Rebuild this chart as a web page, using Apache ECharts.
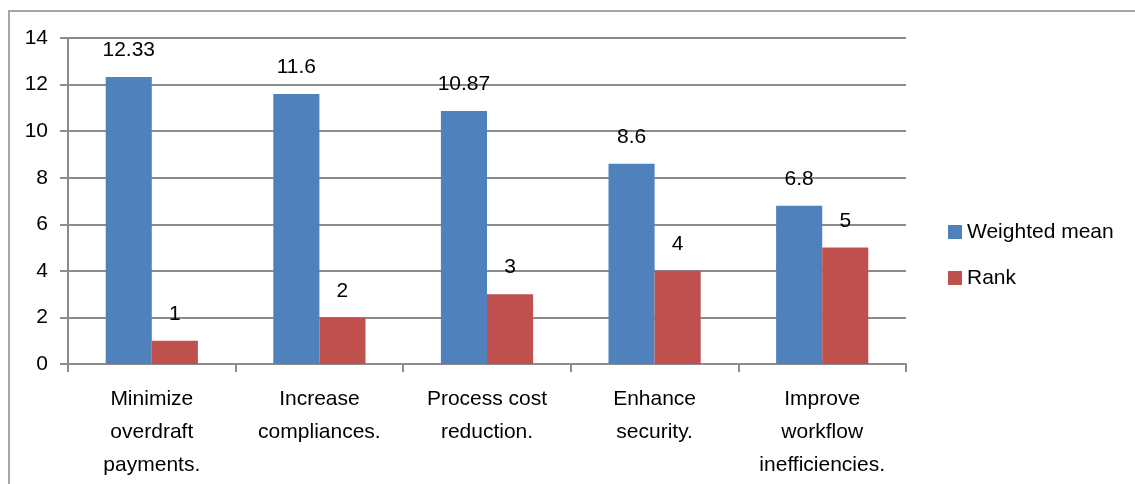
<!DOCTYPE html>
<html>
<head>
<meta charset="utf-8">
<style>
    html, body {
        margin: 0;
        padding: 0;
        background: #fff;
    }

    #chart {
        width: 1135px;
        height: 484px;
    }
</style>
</head>
<body>
<div id="chart"></div>
<script src="https://cdn.jsdelivr.net/npm/echarts@6/dist/echarts.min.js"></script>
<script>
    var categories = ['Minimize\noverdraft\npayments.', 'Increase\ncompliances.', 'Process cost\nreduction.', 'Enhance\nsecurity.', 'Improve\nworkflow\ninefficiencies.'];
    var weightedMean = [12.33, 11.6, 10.87, 8.6, 6.8];
    var rank = [1, 2, 3, 4, 5];

    var fontFamily = '"Liberation Sans", Arial, sans-serif';
    var gray = '#8c8c8c';

    var myChart = echarts.init(document.getElementById('chart'));

    var barLabel = {
      show: true,
      position: 'top',
      distance: 16,
      color: '#000',
      fontSize: 21,
      fontFamily: fontFamily
    };

    myChart.setOption({
      animation: false,
      graphic: [{
        type: 'rect',
        shape: { x: 9, y: 11, width: 1200, height: 600 },
        style: { fill: 'none', stroke: '#a6a6a6', lineWidth: 2 },
        silent: true
      }],
      legend: {
        orient: 'vertical',
        left: 943,
        top: 216,
        itemWidth: 14,
        itemHeight: 14,
        itemGap: 24,
        icon: 'rect',
        textStyle: { fontSize: 21, lineHeight: 22, color: '#000', fontFamily: fontFamily },
        data: ['Weighted mean', 'Rank']
      },
      grid: {
        left: 68,
        right: 229,
        top: 38,
        bottom: 120
      },
      xAxis: {
        type: 'category',
        data: categories,
        axisLine: { lineStyle: { color: gray, width: 2 } },
        axisTick: { show: true, length: 8, lineStyle: { color: gray, width: 2 } },
        axisLabel: {
          margin: 19,
          color: '#000',
          fontSize: 21,
          lineHeight: 33,
          fontFamily: fontFamily,
          interval: 0
        }
      },
      yAxis: {
        type: 'value',
        min: 0,
        max: 14,
        interval: 2,
        axisLine: { show: true, lineStyle: { color: gray, width: 2 } },
        axisTick: { show: true, length: 8, lineStyle: { color: gray, width: 2 } },
        splitLine: { lineStyle: { color: gray, width: 2 } },
        axisLabel: {
          margin: 20,
          color: '#000',
          fontSize: 21,
          fontFamily: fontFamily
        }
      },
      series: [
        {
          name: 'Weighted mean',
          type: 'bar',
          data: weightedMean,
          barGap: 0,
          barCategoryGap: '45%',
          itemStyle: { color: '#4f81bd' },
          label: barLabel
        },
        {
          name: 'Rank',
          type: 'bar',
          data: rank,
          itemStyle: { color: '#c0504d' },
          label: barLabel
        }
      ]
    });
</script>
</body>
</html>
